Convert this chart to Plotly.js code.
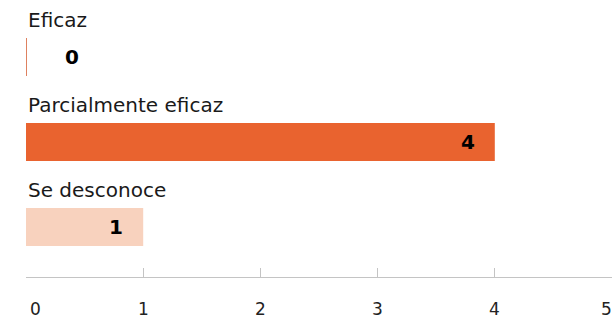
<!DOCTYPE html>
<html>
<head>
<meta charset="utf-8">
<script src="https://cdn.plot.ly/plotly-3.0.1.min.js"></script>
<style>
  html, body { margin: 0; padding: 0; background: #fff; }
  #chart { width: 613px; height: 324px; }
</style>
</head>
<body>
<div id="chart"></div>
<script>
const categories = ["Eficaz", "Parcialmente eficaz", "Se desconoce"];
const values = [0, 4, 1];
const barColors = ["#D4582C", "#E9632F", "#F8D2BE"];
const tickVals = [0, 1, 2, 3, 4, 5];
const tickLabels = ["0", "1", "2", "3", "4", "5"];

const FONT = "DejaVu Sans, sans-serif";

const trace = {
  type: "bar",
  orientation: "h",
  y: categories,
  x: values,
  width: 0.447,
  marker: {
    color: barColors,
    line: { color: barColors, width: values.map(v => v === 0 ? 1.5 : 0) }
  },
  hoverinfo: "skip",
  cliponaxis: false
};

const annotations = [];
categories.forEach((c, i) => {
  annotations.push({
    x: 0, y: c, xref: "x", yref: "y",
    text: c, showarrow: false,
    xanchor: "left", yanchor: "middle",
    xshift: 0, yshift: 37,
    font: { family: FONT, size: 20, color: "#1a1a1a" }
  });
  const v = values[i];
  annotations.push({
    x: v, y: c, xref: "x", yref: "y",
    text: "<b>" + v + "</b>", showarrow: false,
    xanchor: v === 0 ? "left" : "right", yanchor: "middle",
    xshift: v === 0 ? 37 : -18, yshift: 0,
    font: { family: FONT, size: 20, color: "#000" }
  });
});
tickVals.forEach((t, i) => {
  annotations.push({
    x: t, y: 0, xref: "x", yref: "paper",
    text: tickLabels[i], showarrow: false,
    xanchor: i === 0 ? "left" : (i === tickVals.length - 1 ? "right" : "center"),
    yanchor: "top",
    xshift: i === 0 ? 2 : (i === tickVals.length - 1 ? 2 : 0),
    yshift: -20,
    font: { family: FONT, size: 17, color: "#222" }
  });
});

const layout = {
  width: 613, height: 324,
  margin: { l: 26, r: 1, t: 0, b: 47, pad: 0 },
  paper_bgcolor: "#fff", plot_bgcolor: "#fff",
  showlegend: false,
  font: { family: FONT },
  xaxis: {
    range: [0, 5], tickvals: tickVals, showticklabels: false,
    ticks: "inside", ticklen: 9, tickcolor: "#c4c4c4", tickwidth: 1,
    showline: true, linecolor: "#c4c4c4", linewidth: 1,
    showgrid: false, zeroline: false, fixedrange: true
  },
  yaxis: {
    type: "category", range: [2.588, -0.671], autorange: false,
    showticklabels: false, showgrid: false, zeroline: false,
    showline: false, ticks: "", fixedrange: true
  },
  annotations: annotations
};

Plotly.newPlot("chart", [trace], layout, { displayModeBar: false, staticPlot: true });
</script>
</body>
</html>
